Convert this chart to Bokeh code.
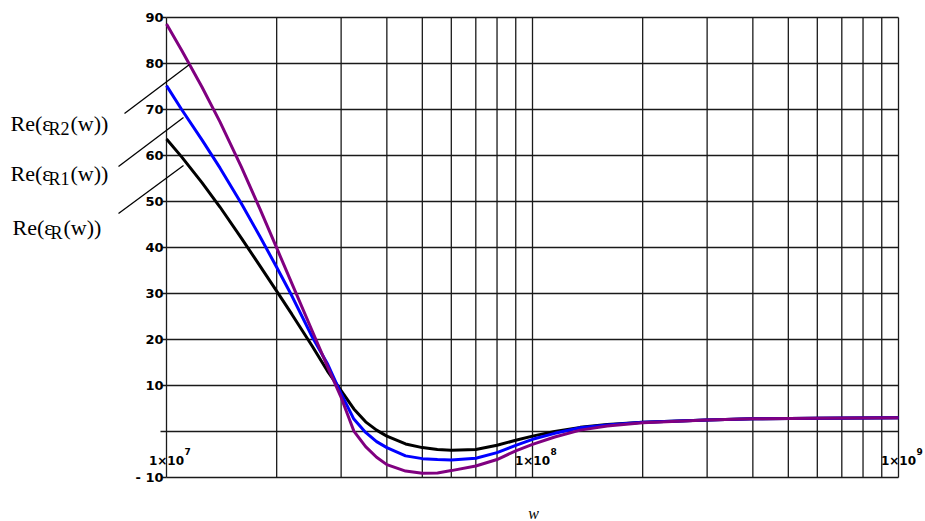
import math
from bokeh.plotting import figure
from bokeh.models import Range1d
from bokeh.core.properties import value
from bokeh.embed import file_html
from bokeh.resources import INLINE

# ---- data ----
w = [1.0e7, 1.1e7, 1.25e7, 1.4e7, 1.6e7, 1.8e7, 2.0e7, 2.2e7, 2.5e7, 2.75e7,
     3.0e7, 3.25e7, 3.5e7, 3.75e7, 4.0e7, 4.5e7, 5.0e7, 5.5e7, 6.0e7, 7.0e7,
     8.0e7, 9.0e7, 1.0e8, 1.15e8, 1.35e8, 1.6e8, 2.0e8, 3.0e8, 4.0e8, 6.0e8, 1.0e9]
re_eps_R = [63.6, 59.7, 54.1, 48.8, 42.1, 36.0, 30.5, 25.5, 18.6, 13.2,
            8.9, 4.9, 2.1, 0.3, -1.0, -2.7, -3.5, -3.9, -4.1, -3.9,
            -3.0, -1.9, -1.0, 0.0, 0.9, 1.5, 2.0, 2.5, 2.75, 2.9, 3.0]
re_eps_R1 = [75.2, 70.0, 63.4, 57.3, 49.6, 42.4, 35.7, 29.5, 20.6, 14.8,
             8.2, 2.7, -0.2, -2.2, -3.5, -5.3, -5.9, -6.1, -6.2, -5.8,
             -4.6, -3.0, -1.7, -0.4, 0.8, 1.4, 2.0, 2.5, 2.75, 2.9, 3.0]
re_eps_R2 = [88.6, 82.9, 74.9, 67.3, 57.6, 48.4, 39.9, 32.2, 21.9, 14.2,
             7.4, 0.1, -3.3, -5.6, -7.2, -8.6, -9.1, -9.0, -8.5, -7.5,
             -6.1, -4.2, -2.8, -1.2, 0.3, 1.2, 1.9, 2.5, 2.75, 2.9, 3.0]
y_ticks = [-10, 0, 10, 20, 30, 40, 50, 60, 70, 80, 90]
y_tick_labels = ["- 10", "", "10", "20", "30", "40", "50", "60", "70", "80", "90"]
x_decades = [1e7, 1e8, 1e9]
x_decade_labels = ["1×10", "1×10", "1×10"]
x_exponents = ["7", "8", "9"]
series_subscripts = ["R2", "R1", "R"]
x_label = "w"

# ---- geometry: plot box inside the 925x521 canvas ----
W, H = 925, 521
BOX_L, BOX_R, BOX_T, BOX_B = 166, 898, 17, 477
XMIN, XMAX, YMIN, YMAX = 1e7, 1e9, -10, 90

def sx(px):
    return XMIN * 10 ** ((px - BOX_L) / (BOX_R - BOX_L) * math.log10(XMAX / XMIN))

def sy(py):
    return YMIN + (BOX_B - py) / (BOX_B - BOX_T) * (YMAX - YMIN)

p = figure(width=W, height=H, x_axis_type="log", output_backend="svg",
           toolbar_location=None, min_border=0,
           x_range=Range1d(sx(0), sx(W)), y_range=Range1d(sy(H), sy(0)))
p.axis.visible = False
p.grid.visible = False
p.outline_line_color = None
p.background_fill_color = "white"
p.border_fill_color = "white"

GRID = "#1a1a1a"
# vertical grid lines at 1..9 x 10^k
grid_x = [m * d for d in [1e7, 1e8] for m in range(1, 10)] + [1e9]
p.segment(x0=grid_x, y0=[YMIN] * len(grid_x), x1=grid_x, y1=[YMAX] * len(grid_x),
          line_color=GRID, line_width=1.3)
# horizontal grid lines
p.segment(x0=[XMIN] * len(y_ticks), y0=y_ticks, x1=[XMAX] * len(y_ticks), y1=y_ticks,
          line_color=GRID, line_width=1.3)
# y ticks outside the box (zero line a bit longer)
tick_start = [sx(160) if t == 0 else sx(162) for t in y_ticks]
p.segment(x0=tick_start, y0=y_ticks, x1=[XMIN] * len(y_ticks), y1=y_ticks,
          line_color=GRID, line_width=1.3)

# y tick labels
lab_y = [t for t, s in zip(y_ticks, y_tick_labels) if s]
lab_s = [s for s in y_tick_labels if s]
p.text(x=[XMIN] * len(lab_y), y=lab_y, text=lab_s, x_offset=-3,
       text_align="right", text_baseline="middle",
       text_font=value("DejaVu Sans"), text_font_style="bold",
       text_font_size="13px", text_color="#000000")

# x decade labels (inside the box, between 0 and -10)
p.text(x=x_decades, y=[sy(460)] * 3, text=x_decade_labels, text_align="center",
       text_baseline="alphabetic", text_font=value("DejaVu Sans"),
       text_font_style="bold", text_font_size="12px", text_color="#000000")
p.text(x=x_decades, y=[sy(451)] * 3, text=x_exponents, x_offset=18, text_align="left",
       text_baseline="alphabetic", text_font=value("DejaVu Sans"),
       text_font_style="bold", text_font_size="9px", text_color="#000000")

# x axis title
p.text(x=[sx(533)], y=[sy(513)], text=[x_label], text_align="center",
       text_baseline="alphabetic", text_font=value("Liberation Serif"),
       text_font_style="italic", text_font_size="16px", text_color="black")

# curves
p.line(w, re_eps_R, line_color="black", line_width=3)
p.line(w, re_eps_R1, line_color="#0000ff", line_width=3)
p.line(w, re_eps_R2, line_color="#800080", line_width=3)

# curve name labels: Re(ε_sub(w))
bases = [123, 173, 227]
starts = [10, 10, 12]
sub_dx = 38
main_font = dict(text_font=value("Liberation Serif"), text_font_size="22px",
                 text_baseline="alphabetic", text_align="left", text_color="black")
sub_font = dict(text_font=value("Liberation Serif"), text_font_size="18px",
                text_baseline="alphabetic", text_align="left", text_color="black")
p.text(x=[sx(s) for s in starts], y=[sy(b) for b in bases], text=["Re(ε"] * 3, **main_font)
p.text(x=[sx(s + sub_dx) for s in starts], y=[sy(b + 5) for b in bases],
       text=series_subscripts, **sub_font)
tail_x = [s + sub_dx + (22 if len(sub) == 2 else 13) for s, sub in zip(starts, series_subscripts)]
p.text(x=[sx(t) for t in tail_x], y=[sy(b) for b in bases], text=["(w))"] * 3, **main_font)

# leader lines from labels to curves
lead_x0 = [sx(124), sx(118), sx(118)]
lead_y0 = [sy(113), sy(166), sy(213)]
lead_x1 = [sx(189), sx(183), sx(183)]
lead_y1 = [sy(64), sy(117), sy(165)]
p.segment(x0=lead_x0, y0=lead_y0, x1=lead_x1, y1=lead_y1, line_color="black", line_width=1.3)

open("out.html", "w").write(file_html(p, INLINE))
